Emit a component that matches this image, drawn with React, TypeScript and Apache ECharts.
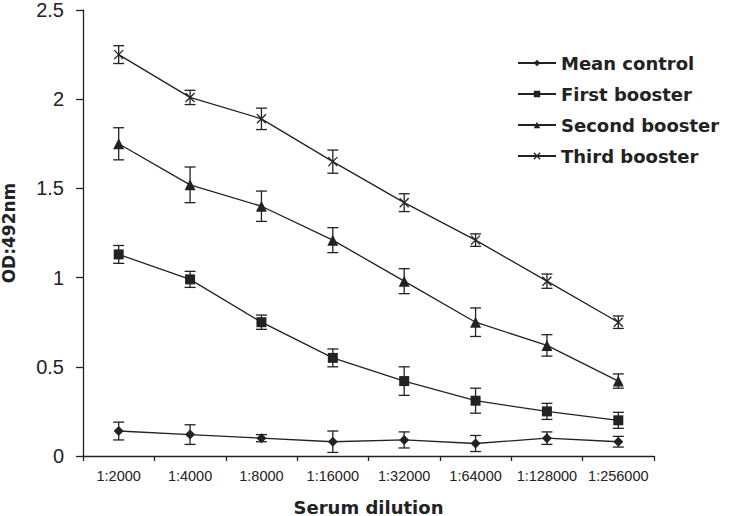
import React, { useEffect, useRef } from "react";
import * as echarts from "echarts";

const categories = ["1:2000", "1:4000", "1:8000", "1:16000", "1:32000", "1:64000", "1:128000", "1:256000"];
const meanControl = [0.14, 0.12, 0.10, 0.08, 0.09, 0.07, 0.10, 0.08];
const meanControlErr = [0.05, 0.055, 0.02, 0.06, 0.045, 0.045, 0.035, 0.03];
const firstBooster = [1.13, 0.99, 0.75, 0.55, 0.42, 0.31, 0.25, 0.20];
const firstBoosterErr = [0.05, 0.045, 0.04, 0.05, 0.08, 0.07, 0.045, 0.045];
const secondBooster = [1.75, 1.52, 1.40, 1.21, 0.98, 0.75, 0.62, 0.42];
const secondBoosterErr = [0.09, 0.10, 0.085, 0.07, 0.07, 0.08, 0.06, 0.04];
const thirdBooster = [2.25, 2.01, 1.89, 1.65, 1.42, 1.21, 0.98, 0.75];
const thirdBoosterErr = [0.05, 0.04, 0.06, 0.065, 0.05, 0.035, 0.04, 0.035];

const seriesNames = ["Mean control", "First booster", "Second booster", "Third booster"];

const INK = "#222";
const FONT = "'Liberation Sans', Arial, sans-serif";
const BOLD_FONT = "'DejaVu Sans', 'Liberation Sans', sans-serif";

function errData(vals: number[], errs: number[]) {
  return vals.map((v, i) => [i, v - errs[i], v + errs[i]]);
}

function errorSeries(name: string, vals: number[], errs: number[]) {
  return {
    type: "custom",
    name: name + " err",
    data: errData(vals, errs),
    z: 1,
    silent: true,
    renderItem: (params: any, api: any) => {
      const x = api.value(0);
      const lo = api.coord([x, api.value(1)]);
      const hi = api.coord([x, api.value(2)]);
      const hw = 5.5;
      const style = { stroke: INK, lineWidth: 1.3, fill: "none" };
      return {
        type: "group",
        children: [
          { type: "line", shape: { x1: lo[0], y1: lo[1], x2: hi[0], y2: hi[1] }, style },
          { type: "line", shape: { x1: lo[0] - hw, y1: lo[1], x2: lo[0] + hw, y2: lo[1] }, style },
          { type: "line", shape: { x1: hi[0] - hw, y1: hi[1], x2: hi[0] + hw, y2: hi[1] }, style },
        ],
      };
    },
  };
}

function lineSeries(name: string, vals: number[], symbol: string, size: number, hollow = false) {
  return {
    type: "line",
    name,
    data: vals,
    symbol,
    symbolSize: size,
    showAllSymbol: true,
    z: 3,
    lineStyle: { color: INK, width: 1.3 },
    itemStyle: hollow
      ? { color: "rgba(0,0,0,0)", borderColor: INK, borderWidth: 1.3 }
      : { color: INK, borderWidth: 0 },
  };
}

export default function App() {
  const ref = useRef<HTMLDivElement>(null);
  useEffect(() => {
    if (!ref.current) return;
    const chart = echarts.init(ref.current, null, { renderer: "svg" });
    chart.setOption({
      animation: false,
      backgroundColor: "#fff",
      textStyle: { fontFamily: FONT, color: INK },
      grid: { left: 83, right: 75, top: 10, bottom: 60, containLabel: false, outerBoundsMode: "none" },
      legend: {
        data: seriesNames,
        orient: "vertical",
        left: 512,
        top: 48,
        itemWidth: 38,
        itemHeight: 8,
        itemGap: 11,
        textStyle: { fontSize: 18, fontWeight: "bold", color: INK, fontFamily: BOLD_FONT, lineHeight: 20 },
        itemStyle: { borderWidth: 1.3 },
      },
      xAxis: {
        type: "category",
        data: categories,
        boundaryGap: true,
        name: "Serum dilution",
        nameLocation: "middle",
        nameGap: 42,
        nameTextStyle: { fontSize: 18, fontWeight: "bold", color: INK, fontFamily: BOLD_FONT },
        axisLine: { lineStyle: { color: INK, width: 1.3 } },
        axisTick: { show: true, length: 5, inside: false, alignWithLabel: false, lineStyle: { color: INK, width: 1.3 } },
        axisLabel: { fontSize: 14.5, color: INK, margin: 12, interval: 0, fontFamily: FONT },
        splitLine: { show: false },
      },
      yAxis: {
        type: "value",
        min: 0,
        max: 2.5,
        interval: 0.5,
        name: "OD:492nm",
        nameLocation: "middle",
        nameRotate: 90,
        nameGap: 66,
        nameTextStyle: { fontSize: 17, fontWeight: "bold", color: INK, fontFamily: BOLD_FONT },
        axisLine: { show: true, lineStyle: { color: INK, width: 1.3 } },
        axisTick: { show: true, length: 7, lineStyle: { color: INK, width: 1.3 } },
        axisLabel: { fontSize: 20, lineHeight: 15, color: INK, margin: 19, fontFamily: FONT },
        splitLine: { show: false },
      },
      series: [
        errorSeries("Mean control", meanControl, meanControlErr),
        errorSeries("First booster", firstBooster, firstBoosterErr),
        errorSeries("Second booster", secondBooster, secondBoosterErr),
        errorSeries("Third booster", thirdBooster, thirdBoosterErr),
        lineSeries("Mean control", meanControl, "diamond", 10),
        lineSeries("First booster", firstBooster, "rect", 10),
        lineSeries("Second booster", secondBooster, "triangle", 11),
        lineSeries("Third booster", thirdBooster, "path://M0,0L10,10M10,0L0,10", 9, true),
      ],
    });
    return () => chart.dispose();
  }, []);
  return <div ref={ref} style={{ position: "fixed", left: 0, top: 0, width: 729, height: 516 }} />;
}
